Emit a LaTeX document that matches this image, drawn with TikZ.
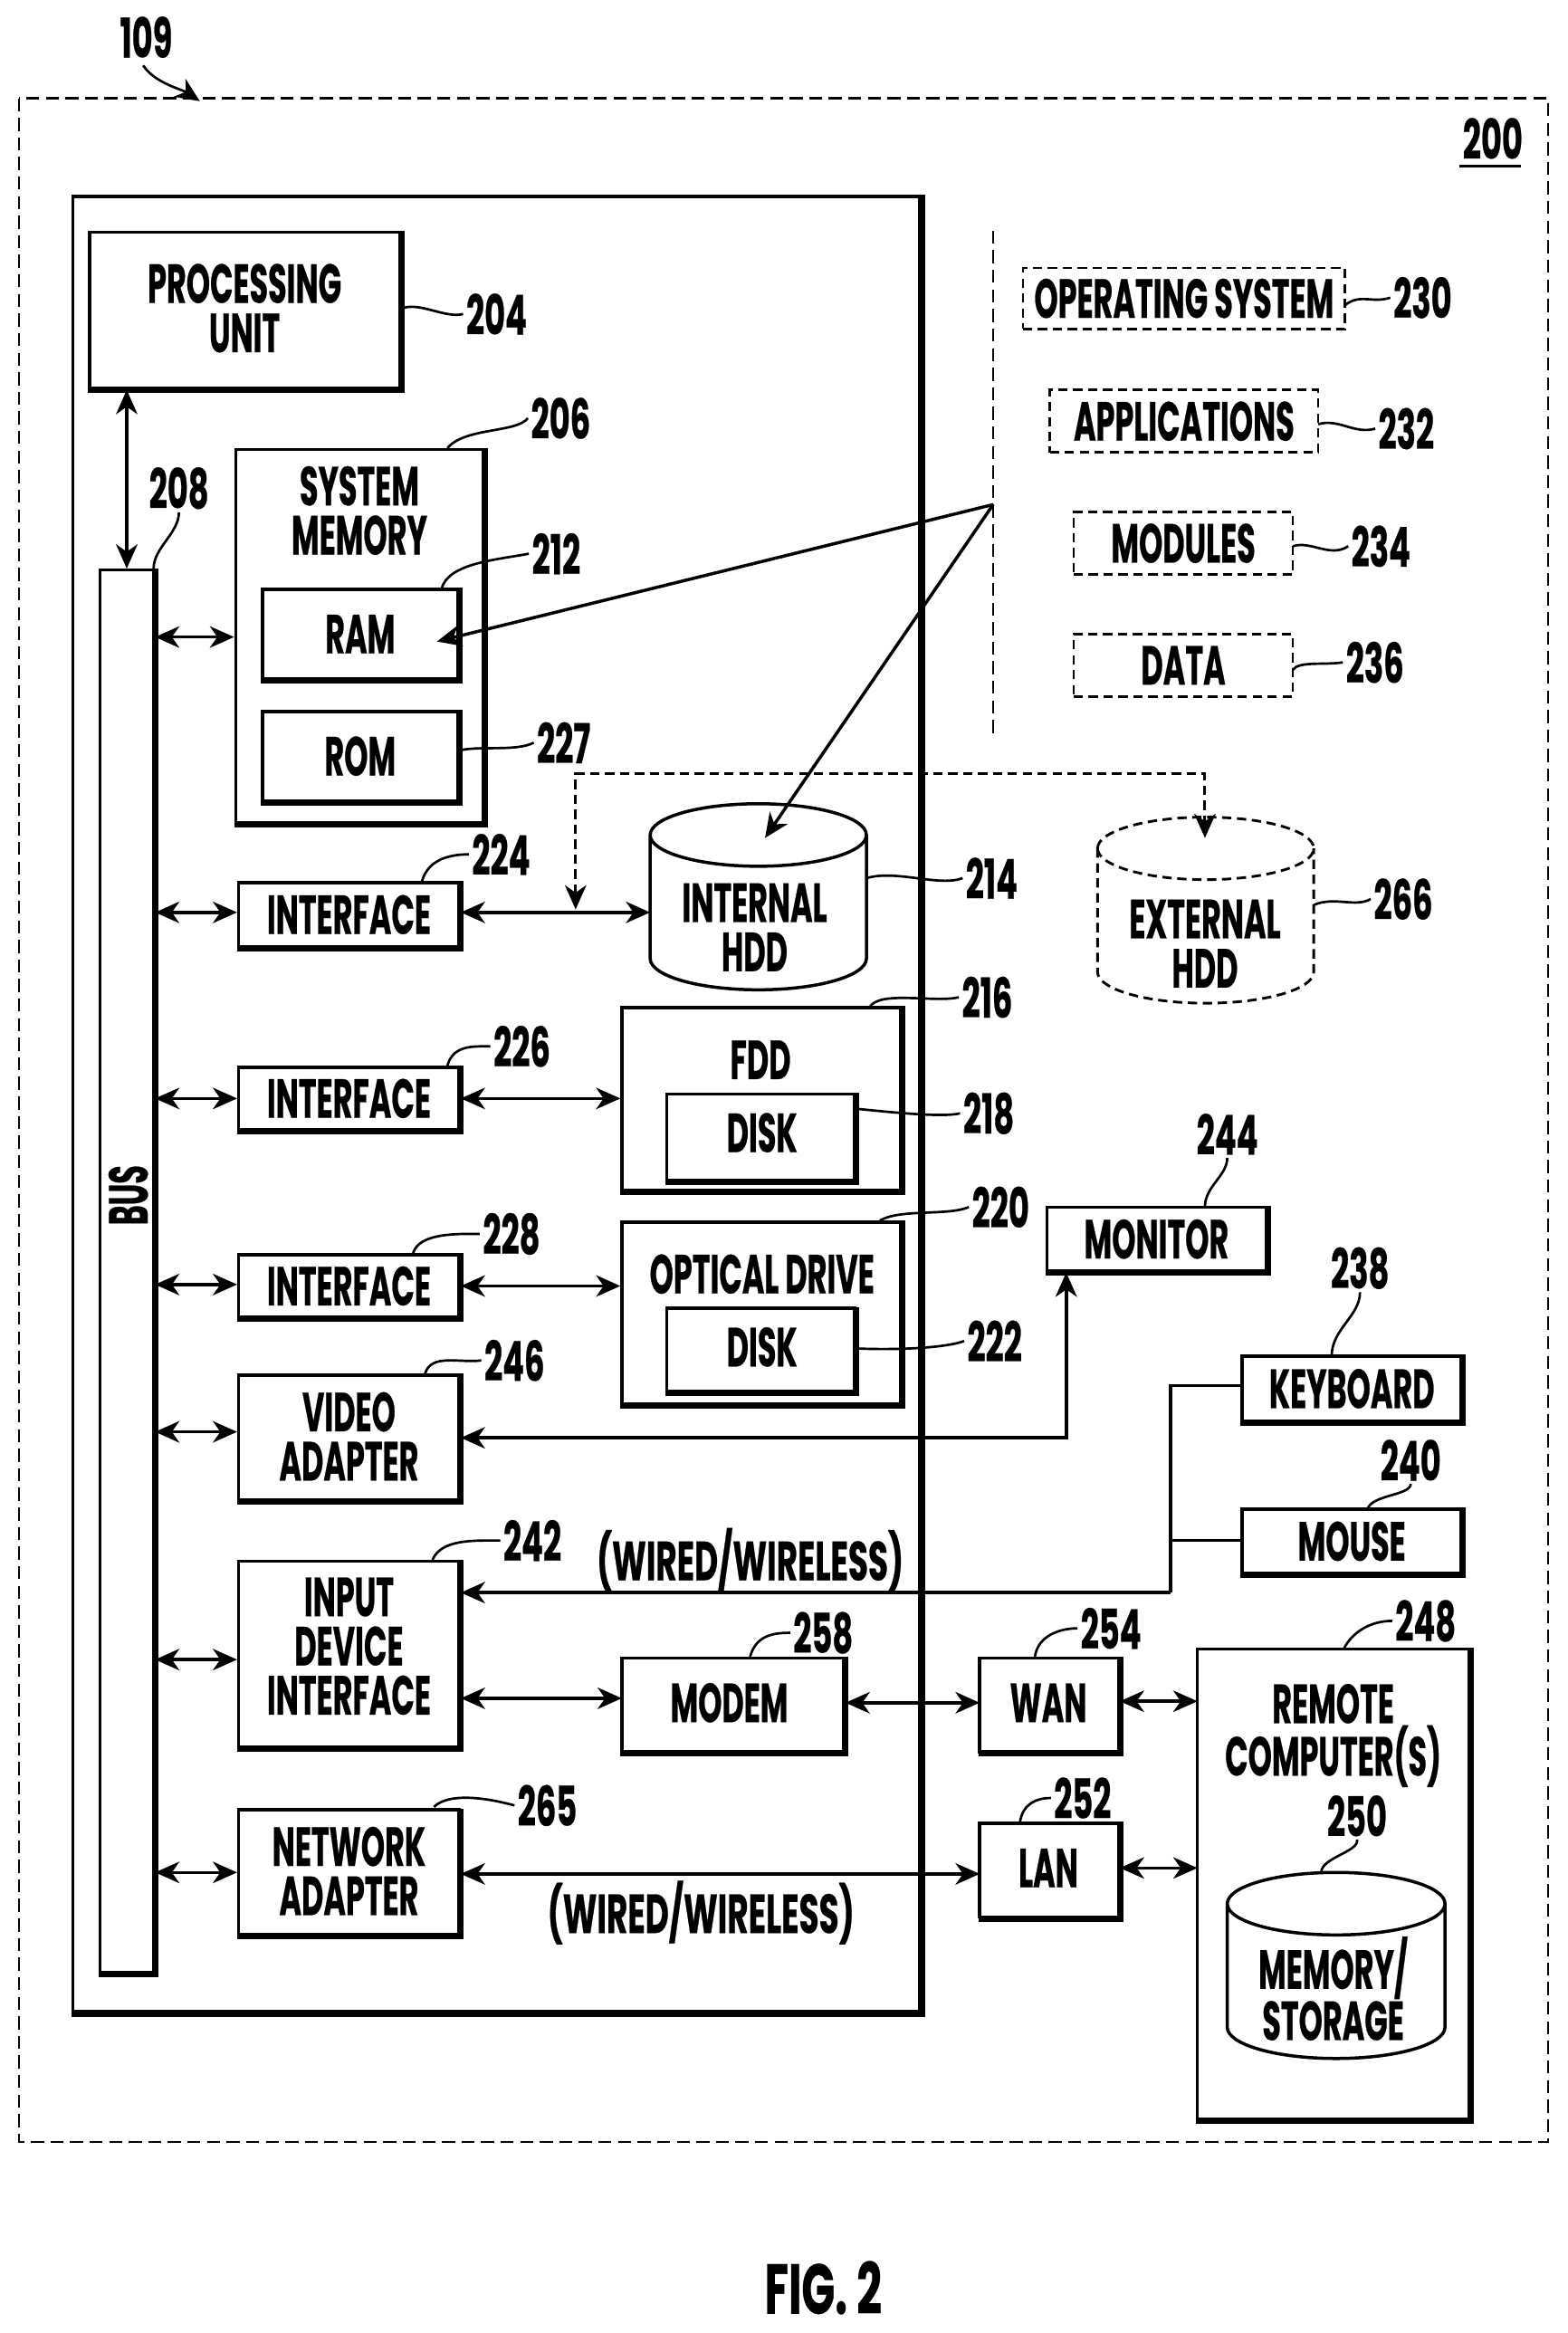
\documentclass[tikz,border=0pt]{standalone}
\usepackage{fontspec}
\setmainfont{Poppins}[FakeStretch=0.55,BoldFeatures={FakeBold=0.4}]
\newfontfamily\numf{Poppins}[FakeStretch=0.58,BoldFeatures={FakeBold=0.4}]
\newfontfamily\wirf{Poppins}[FakeStretch=0.59,BoldFeatures={FakeBold=0.4}]
\newfontfamily\figf{Poppins}[FakeStretch=0.62,BoldFeatures={FakeBold=0.4}]
\usetikzlibrary{arrows.meta,calc}
\tikzset{
 tip/.tip={Stealth[length=13pt,width=11.5pt,inset=4pt]},
 blk/.style={draw,line width=1.7pt,inner sep=0pt,outer sep=.8pt,font=\mainf},
 dbox/.style={draw,line width=1.3pt,dash pattern=on 5pt off 3pt,inner sep=0pt,font=\mainf},
 txt/.style={font=\mainf,inner sep=0pt,align=center},
 wir/.style={font=\wirf\mainf,inner sep=0pt},
 num/.style={font=\numf\mainf,inner sep=1.5pt},
 lead/.style={line width=1.3pt},
 conn/.style={line width=1.7pt},
 dbl/.style={conn,tip-tip},
 sgl/.style={conn,-tip},
 dsh/.style={line width=1.4pt,dash pattern=on 5pt off 3pt},
 outerd/.style={line width=1pt,dash pattern=on 7pt off 3.5pt}
}
\newcommand\mainf{\fontsize{29.5}{26.4}\selectfont\bfseries}
% #1 name, #2 x1, #3 y1, #4 x2, #5 y2, #6 text
\newcommand\bx[6]{%
 \pgfmathsetmacro\cxx{(#2+#4-2)/2}\pgfmathsetmacro\cyy{(#3+#5-2)/2}%
 \pgfmathsetmacro\wdd{(#4-2-#2)*0.8}\pgfmathsetmacro\htt{(#5-2-#3)*0.7985}%
 \node[blk,align=center,minimum width=\wdd pt,minimum height=\htt pt] (#1) at (\cxx,\cyy) {#6};
 \draw[line width=3.4pt] (#1.north east) -- (#1.south east) -- (#1.south west);}
\newcommand\dbx[6]{%
 \pgfmathsetmacro\cxx{(#2+#4)/2}\pgfmathsetmacro\cyy{(#3+#5)/2}%
 \pgfmathsetmacro\wdd{(#4-#2)*0.8}\pgfmathsetmacro\htt{(#5-#3)*0.7985}%
 \node[dbox,minimum width=\wdd pt,minimum height=\htt pt] (#1) at (\cxx,\cyy) {#6};}
% #1 number, #2 start, #3 label pos, #4 #5 control vectors, #6 label anchor
\newcommand\ldr[6]{%
 \node[num] (n#1) at (#3) {#1};
 \coordinate (s#1) at (#2);
 \draw[lead] (s#1) .. controls +(#4) and +(#5) .. (n#1.#6);}
% #1 name, #2 left, #3 right, #4 top of the upper ellipse, #5 bottom, #6 path style, #7 text position, #8 text
\newcommand\cyl[8]{%
 \pgfmathsetmacro\rxx{(#3-#2)/2}%
 \node[txt] (#1) at (#7) {#8};
 \draw[#6] (#2,#4+21) arc[start angle=180,end angle=-180,x radius=\rxx,y radius=21]
   (#2,#4+21) -- (#2,#5-21) arc[start angle=180,end angle=0,x radius=\rxx,y radius=21] -- (#3,#4+21);}
\begin{document}
\begin{tikzpicture}[x=0.8pt,y=-0.7985pt]
\useasboundingbox (0pt,0pt) rectangle (840.8pt,-1251.6pt);
% outer dashed frame
\coordinate (of1) at (13,66); \coordinate (of2) at (1038,1439);
\draw[outerd] (of1) rectangle (of2);
\node[num] (n109) at (98,25) {109};
\coordinate (a109) at (134,68);
\draw[lead,-tip] (n109.south) ++(-2,3) .. controls +(8,12) and +(-12,-8) .. (a109);
\node[num] (n200) at (1001,93) {200};
\draw[line width=1.3pt] ([yshift=-2pt]n200.south west) ++(0,0) -- ++(41,0);
% main box
\node[draw,line width=1.7pt,inner sep=0pt,minimum width=454.4pt,minimum height=974pt] (main) at (333,742) {};
\draw[line width=3.8pt] (main.north east) -- (main.south east) -- (main.south west);
% boxes
\bx{pu}{60}{156}{270}{263}{}
\node[txt] (put) at (164,207) {PROCESSING\\UNIT};
\bx{sm}{158}{302}{326}{555}{}
\node[txt] (smt) at (241,343) {SYSTEM\\MEMORY};
\bx{ram}{176}{396}{309}{458}{RAM}
\bx{rom}{176}{478}{309}{540}{ROM}
\bx{bus}{67}{383}{105}{1327}{}
\node[txt,rotate=90] (bust) at (86,803) {BUS};
\bx{ifa}{160}{593}{310}{638}{INTERFACE}
\bx{ifb}{160}{717}{310}{761}{INTERFACE}
\bx{ifc}{160}{843}{310}{887}{INTERFACE}
\bx{vid}{160}{924}{310}{1010}{}
\node[txt] (vidt) at (234,965) {VIDEO\\ADAPTER};
\bx{idi}{160}{1049}{310}{1176}{}
\node[txt] (idit) at (234,1106) {INPUT\\DEVICE\\INTERFACE};
\bx{net}{160}{1216}{310}{1302}{}
\node[txt] (nett) at (234,1257) {NETWORK\\ADAPTER};
\bx{fdd}{417}{677}{606}{802}{}
\node[txt] (fddt) at (510,712) {FDD};
\bx{dka}{447}{735}{575}{795}{}
\node[txt] (dkat) at (511,761) {DISK};
\bx{opt}{417}{821}{606}{945}{}
\node[txt] (optt) at (511,856) {OPTICAL DRIVE};
\bx{dkb}{447}{879}{575}{937}{}
\node[txt] (dkbt) at (511,905) {DISK};
\bx{mod}{417}{1114}{568}{1179}{}
\node[txt] (modt) at (489,1144) {MODEM};
\bx{wan}{657}{1114}{752}{1179}{}
\node[txt] (want) at (703,1144) {WAN};
\bx{lan}{657}{1225}{752}{1290}{}
\node[txt] (lant) at (703,1255) {LAN};
\bx{rem}{803}{1108}{987}{1426}{}
\node[txt] (remt) at (894,1166) {REMOTE\\COMPUTER(S)};
\bx{mon}{702}{811}{851}{856}{MONITOR}
\bx{key}{833}{911}{982}{957}{KEYBOARD}
\bx{mou}{833}{1014}{982}{1059}{MOUSE}
\dbx{os}{686}{180}{902}{221}{OPERATING SYSTEM}
\dbx{app}{704}{262}{884}{304}{APPLICATIONS}
\dbx{mdl}{720}{344}{867}{386}{MODULES}
\dbx{dat}{720}{426}{867}{468}{DATA}
% cylinders
\cyl{ihd}{436}{581}{540}{665}{line width=1.7pt}{506,623}{INTERNAL\\HDD}
\cyl{ehd}{736}{881}{549}{674}{dsh}{808,634}{EXTERNAL\\HDD}
\cyl{mst}{823}{969}{1258}{1383}{line width=1.7pt}{894,1336}{MEMORY/\\STORAGE}
% bracket with the two pointers
\coordinate (bt) at (666,155); \coordinate (bb) at (666,495); \coordinate (bm) at (666,339);
\draw[outerd] (bt) -- (bb);
\coordinate (ptr) at (293,431); \coordinate (pth) at (513,563);
\draw[sgl] (bm) -- (ptr);
\draw[sgl] (bm) -- (pth);
% bus connectors
\draw[dbl] (bus.north |- pu.south) -- (bus.north);
\coordinate (by1) at (158,428); \coordinate (by2) at (160,613); \coordinate (by3) at (160,738);
\coordinate (by4) at (160,863); \coordinate (by5) at (160,962); \coordinate (by6) at (160,1115); \coordinate (by7) at (160,1258);
\draw[dbl] (bus.east |- by1) -- (sm.west |- by1);
\draw[dbl] (bus.east |- by2) -- (ifa.west |- by2);
\draw[dbl] (bus.east |- by3) -- (ifb.west |- by3);
\draw[dbl] (bus.east |- by4) -- (ifc.west |- by4);
\draw[dbl] (bus.east |- by5) -- (vid.west |- by5);
\draw[dbl] (bus.east |- by6) -- (idi.west |- by6);
\draw[dbl] (bus.east |- by7) -- (net.west |- by7);
% device connectors
\coordinate (hy) at (436,613);
\draw[dbl] (ifa.east |- hy) -- (hy);
\coordinate (dj) at (386,611); \coordinate (dk) at (386,520); \coordinate (dl) at (808,520); \coordinate (dm) at (808,563);
\draw[dsh,tip-tip] (dj) -- (dk) -- (dl) -- (dm);
\draw[dbl] (ifb.east) -- (ifb.east -| fdd.west);
\draw[dbl] (ifc.east) -- (ifc.east -| opt.west);
\coordinate (vm) at (715,966);
\draw[dbl] (vid.east |- vm) -- (vm) -- (vm |- mon.south);
\coordinate (kj) at (785,1070); \coordinate (kk) at (785,931); \coordinate (mj) at (785,1035);
\draw[conn] (key.west |- kk) -- (kk) -- (kj);
\draw[conn] (mou.west |- mj) -- (mj);
\draw[sgl] (kj) -- (kj -| idi.east);
\node[wir] (wa) at (503,1048) {(WIRED/WIRELESS)};
\coordinate (ma) at (417,1141);
\draw[dbl] (idi.east |- ma) -- (ma);
\coordinate (mb) at (657,1144);
\draw[dbl] (mod.east |- mb) -- (mb);
\coordinate (mc) at (803,1143);
\draw[dbl] (wan.east |- mc) -- (mc);
\coordinate (na) at (657,1259);
\draw[dbl] (net.east |- na) -- (na);
\node[wir] (wb) at (470,1285) {(WIRED/WIRELESS)};
\coordinate (nb) at (803,1255);
\draw[dbl] (lan.east |- nb) -- (nb);
% reference numerals
\ldr{204}{270,207}{333,211}{12,-4}{-12,3}{west}
\ldr{206}{300,301}{376,281}{12,-14}{-8,10}{west}
\ldr{208}{103,382}{120,328}{0,-14}{0,14}{south}
\ldr{212}{296,396}{373,372}{4,-18}{-20,4}{west}
\ldr{227}{309,504}{378,499}{14,-3}{-12,6}{west}
\ldr{224}{283,592}{336,574}{4,-14}{-14,0}{west}
\ldr{214}{581,590}{665,590}{20,-6}{-16,6}{west}
\ldr{266}{881,608}{941,604}{14,-6}{-10,6}{west}
\ldr{216}{583,677}{662,670}{6,-12}{-16,4}{west}
\ldr{226}{300,716}{350,703}{4,-14}{-12,0}{west}
\ldr{218}{575,745}{663,748}{20,2}{-12,3}{west}
\ldr{228}{277,842}{343,829}{4,-14}{-14,0}{west}
\ldr{220}{590,820}{671,811}{14,-8}{-14,6}{west}
\ldr{222}{575,906}{667,901}{24,1}{-14,5}{west}
\ldr{244}{808,811}{823,762}{0,-14}{0,12}{south}
\ldr{238}{893,911}{912,852}{0,-18}{0,16}{south}
\ldr{240}{917,1014}{946,981}{3,-10}{0,8}{south}
\ldr{246}{285,923}{345,914}{4,-14}{-14,2}{west}
\ldr{242}{290,1048}{357,1035}{6,-14}{-18,0}{west}
\ldr{258}{503,1113}{552,1097}{4,-14}{-12,0}{west}
\ldr{254}{694,1113}{745,1094}{2,-14}{-12,0}{west}
\ldr{248}{901,1108}{956,1089}{6,-12}{-14,0}{west}
\ldr{252}{684,1224}{726,1208}{2,-12}{-10,0}{west}
\ldr{265}{291,1214}{367,1213}{10,-10}{-18,-5}{west}
\ldr{250}{886,1258}{910,1220}{0,-10}{2,8}{south}
\ldr{230}{902,205}{954,200}{10,-8}{-12,4}{west}
\ldr{232}{884,285}{943,288}{14,-4}{-14,4}{west}
\ldr{234}{867,367}{926,367}{12,-4}{-12,8}{west}
\ldr{236}{867,450}{922,445}{4,-6}{-12,2}{west}
\node[font=\figf\fontsize{38}{38}\selectfont\bfseries,inner sep=0pt] (fig) at (552,1537) {FIG. 2};
\end{tikzpicture}
\end{document}
